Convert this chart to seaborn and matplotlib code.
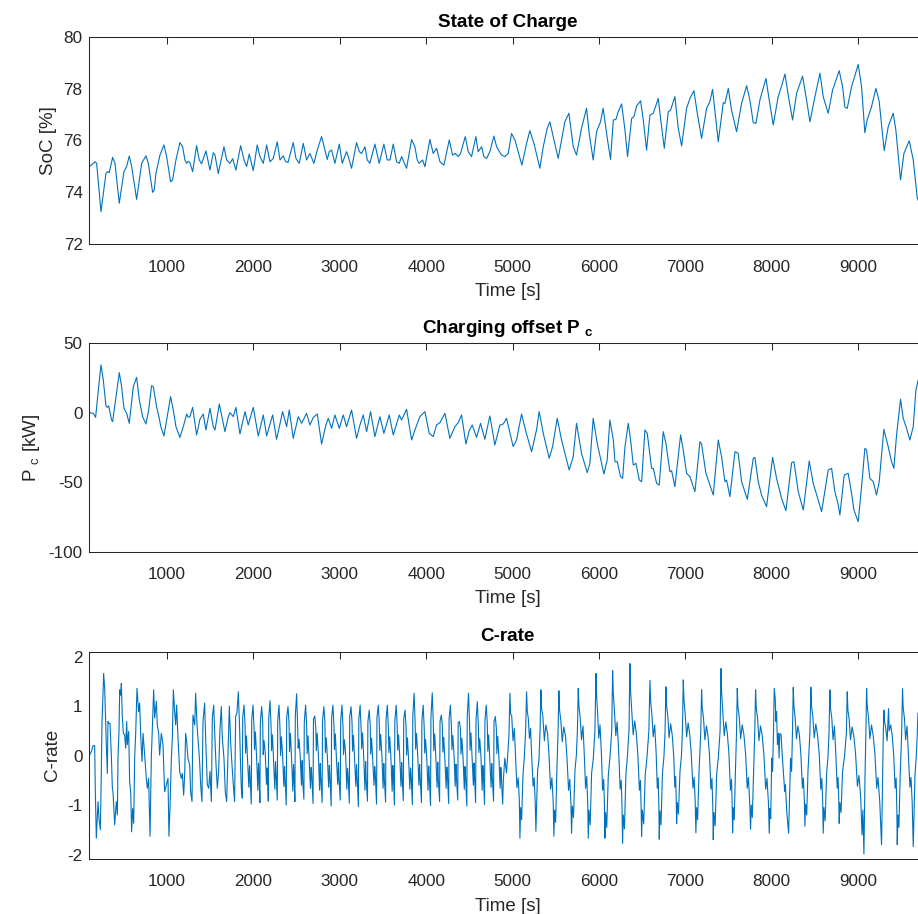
import matplotlib
matplotlib.use("Agg")
import matplotlib.pyplot as plt
import pandas as pd
import seaborn as sns

# ---------------------------------------------------------------- data
X_TICKS = [1000, 2000, 3000, 4000, 5000, 6000, 7000, 8000, 9000]
SOC_TICKS = [72, 74, 76, 78, 80]
PC_TICKS = [-100, -50, 0, 50]
CRATE_TICKS = [-2, -1, 0, 1, 2]

# State of charge [%]
SOC_TIME = [
    100, 166, 185, 235, 293, 312, 331, 370, 397, 447, 501, 532, 563, 590, 648,
    706, 756, 783, 833, 852, 871, 918, 964, 995, 1041, 1064, 1103, 1149, 1180,
    1207, 1226, 1245, 1265, 1296, 1342, 1373, 1400, 1450, 1497, 1535, 1555,
    1593, 1659, 1690, 1728, 1760, 1797, 1852, 1891, 1921, 1952, 1998, 2044,
    2075, 2114, 2153, 2191, 2230, 2276, 2307, 2345, 2370, 2400, 2461, 2492,
    2530, 2577, 2615, 2654, 2700, 2739, 2789, 2828, 2855, 2878, 2905, 2943,
    2994, 3028, 3078, 3098, 3136, 3194, 3225, 3252, 3291, 3318, 3348, 3406,
    3456, 3510, 3549, 3580, 3619, 3657, 3688, 3715, 3773, 3831, 3869, 3896,
    3919, 3958, 3985, 4043, 4081, 4120, 4159, 4205, 4267, 4305, 4336, 4371,
    4398, 4452, 4487, 4525, 4575, 4602, 4641, 4668, 4699, 4737, 4784, 4815,
    4872, 4911, 4950, 4988, 5027, 5108, 5162, 5200, 5247, 5316, 5355, 5401,
    5432, 5470, 5528, 5605, 5652, 5702, 5740, 5798, 5856, 5887, 5933, 5972,
    6018, 6049, 6088, 6134, 6166, 6196, 6223, 6262, 6301, 6331, 6378, 6405,
    6436, 6482, 6513, 6551, 6590, 6629, 6686, 6725, 6756, 6802, 6829, 6879,
    6918, 6957, 7014, 7053, 7099, 7138, 7188, 7246, 7284, 7315, 7354, 7381,
    7439, 7458, 7497, 7535, 7593, 7651, 7709, 7747, 7786, 7817, 7863, 7933,
    7971, 8017, 8075, 8114, 8153, 8191, 8241, 8288, 8357, 8403, 8442, 8500,
    8558, 8596, 8654, 8704, 8781, 8820, 8847, 8874, 8924, 9001, 9040, 9078,
    9105, 9155, 9206, 9244, 9302, 9348, 9406, 9437, 9491, 9530, 9592, 9638,
    9684, 9707,
]
SOC_PCT = [
    74.99, 75.18, 75.12, 73.26, 74.73, 74.80, 74.76, 75.35, 75.12, 73.58, 74.80,
    75.00, 75.40, 75.00, 73.73, 75.12, 75.41, 75.12, 74.00, 74.09, 74.73, 75.44,
    75.83, 75.38, 74.41, 74.48, 75.25, 75.92, 75.76, 75.25, 75.12, 75.20, 75.15,
    74.80, 75.80, 75.25, 75.10, 75.60, 74.86, 75.53, 75.44, 74.73, 75.76, 75.25,
    75.12, 75.30, 74.86, 75.80, 75.25, 75.00, 75.48, 74.84, 75.83, 75.38, 75.12,
    75.83, 75.18, 75.31, 75.95, 75.25, 75.41, 75.20, 75.15, 75.92, 75.31, 75.12,
    75.89, 75.25, 75.50, 75.12, 75.63, 76.15, 75.63, 75.27, 75.57, 75.63, 75.12,
    75.86, 75.12, 75.57, 75.38, 74.93, 75.92, 75.57, 75.50, 75.76, 75.25, 75.12,
    75.86, 75.12, 75.86, 75.25, 75.25, 75.86, 75.18, 75.12, 75.38, 74.93, 76.04,
    75.76, 75.25, 75.12, 75.25, 74.99, 76.04, 75.50, 75.70, 75.18, 75.05, 76.02,
    75.44, 75.50, 75.38, 75.50, 76.15, 75.57, 75.38, 76.15, 75.57, 75.76, 75.38,
    75.31, 75.57, 76.17, 75.76, 75.44, 75.38, 75.50, 76.27, 76.02, 75.05, 75.89,
    76.38, 75.89, 74.93, 75.76, 76.47, 76.72, 76.15, 75.31, 76.72, 77.05, 75.76,
    75.44, 76.47, 77.24, 76.27, 75.25, 76.34, 76.72, 77.24, 76.27, 75.27, 76.79,
    76.81, 77.11, 77.41, 76.40, 75.38, 76.85, 76.92, 77.33, 77.53, 76.79, 75.63,
    76.98, 77.05, 77.62, 76.53, 75.70, 77.11, 77.17, 77.69, 76.47, 75.79, 77.24,
    77.62, 77.92, 77.05, 76.08, 77.24, 77.50, 77.97, 76.79, 75.95, 77.46, 77.43,
    78.01, 77.17, 76.34, 77.43, 78.11, 77.56, 76.69, 76.66, 77.56, 78.39, 77.56,
    76.60, 77.69, 78.10, 78.56, 77.75, 76.79, 77.82, 78.48, 77.56, 76.72, 77.69,
    78.59, 77.69, 77.05, 77.94, 78.69, 78.07, 77.28, 77.24, 78.07, 78.93, 78.07,
    76.30, 76.79, 77.30, 78.01, 77.50, 75.61, 76.53, 77.05, 76.40, 74.48, 75.50,
    75.99, 75.25, 73.81, 73.58,
]

# Charging offset P_c [kW]
PC_TIME = [
    100, 146, 173, 193, 235, 262, 293, 308, 324, 358, 370, 409, 447, 474, 501,
    532, 563, 609, 648, 679, 717, 756, 787, 821, 841, 879, 910, 926, 964, 995,
    1041, 1072, 1103, 1149, 1188, 1227, 1246, 1265, 1296, 1342, 1381, 1419,
    1450, 1497, 1535, 1555, 1605, 1651, 1670, 1709, 1728, 1767, 1797, 1844,
    1902, 1940, 1998, 2056, 2114, 2153, 2222, 2268, 2338, 2384, 2415, 2461,
    2519, 2558, 2615, 2654, 2693, 2739, 2789, 2839, 2866, 2905, 2943, 2994,
    3040, 3078, 3136, 3194, 3233, 3271, 3310, 3356, 3406, 3464, 3510, 3572,
    3619, 3688, 3715, 3773, 3831, 3869, 3927, 3985, 4035, 4081, 4120, 4159,
    4217, 4274, 4332, 4371, 4409, 4460, 4498, 4533, 4583, 4629, 4679, 4737,
    4795, 4853, 4892, 4930, 5007, 5046, 5104, 5154, 5220, 5277, 5308, 5355,
    5424, 5463, 5517, 5567, 5655, 5702, 5740, 5798, 5864, 5895, 5933, 5980,
    6057, 6095, 6126, 6166, 6185, 6212, 6250, 6274, 6301, 6339, 6366, 6397,
    6428, 6467, 6494, 6532, 6559, 6609, 6629, 6667, 6698, 6744, 6775, 6821,
    6841, 6879, 6945, 6976, 7014, 7053, 7111, 7169, 7188, 7238, 7265, 7323,
    7381, 7419, 7458, 7477, 7516, 7574, 7612, 7651, 7717, 7786, 7805, 7844,
    7882, 7940, 8010, 8056, 8114, 8164, 8230, 8257, 8307, 8365, 8434, 8480,
    8538, 8577, 8654, 8693, 8731, 8770, 8789, 8839, 8885, 8924, 8951, 9001,
    9040, 9078, 9098, 9136, 9175, 9213, 9244, 9298, 9348, 9387, 9414, 9445,
    9491, 9522, 9561, 9599, 9638, 9669, 9696,
]
PC_KW = [
    0.1, -0.4, -3.3, 9.2, 34.4, 23.6, 4.9, 3.9, 4.9, -5.2, -6.4, 11.6, 28.9,
    18.8, 3.2, -0.4, -7.6, 18.8, 25.5, 9.2, -2.8, -8.1, 2.0, 19.5, 18.8, 4.4,
    -4.0, -9.5, -16.7, -5.2, 11.6, 2.0, -10.0, -17.7, -10.0, -0.9, -3.3, -2.8,
    3.9, -16.0, -4.7, -0.9, -12.4, 3.2, -10.0, -12.4, 6.3, -7.6, -13.6, -2.8,
    0.1, -2.8, 3.9, -15.3, 0.8, -8.8, 3.9, -16.7, -1.6, -16.7, -1.6, -19.1,
    0.8, -10.0, 2.0, -18.4, -2.8, -7.6, -0.4, -8.8, -3.3, -0.9, -22.5, -8.8,
    -4.0, -11.2, -1.6, -11.2, -1.6, -10.0, 2.0, -18.4, -8.8, -1.6, -13.6, 0.8,
    -17.2, -2.8, -14.8, -1.6, -16.0, -1.6, -5.2, 2.5, -19.6, -12.4, -2.8, 0.8,
    -14.8, -17.2, -8.8, -7.1, -0.4, -18.4, -10.0, -7.1, -1.6, -22.5, -12.9,
    -8.8, -17.7, -7.6, -19.1, -2.3, -23.2, -8.8, -8.1, -4.0, -24.4, -19.6,
    -0.9, -13.6, -28.0, -12.4, 0.8, -14.8, -32.8, -24.4, -4.0, -19.6, -41.2,
    -31.6, -7.6, -29.2, -43.1, -36.4, -4.0, -22.0, -44.1, -34.0, -5.2, -19.6,
    -35.2, -35.2, -46.0, -47.2, -24.4, -7.6, -19.6, -37.6, -36.4, -48.4, -49.6,
    -12.4, -14.8, -40.0, -40.0, -50.8, -52.0, -13.6, -22.0, -42.4, -41.7,
    -53.2, -16.0, -26.8, -43.6, -46.0, -56.8, -20.8, -22.5, -43.6, -48.4,
    -59.2, -19.6, -31.6, -49.6, -48.4, -60.4, -28.0, -29.2, -49.6, -62.3,
    -32.8, -32.1, -49.6, -59.2, -67.6, -32.1, -47.2, -61.6, -70.5, -36.0,
    -35.2, -56.8, -70.0, -34.7, -50.8, -62.8, -71.2, -41.2, -40.0, -56.8,
    -66.4, -73.6, -44.8, -43.6, -58.0, -70.0, -78.4, -53.2, -25.6, -26.8,
    -47.2, -49.6, -59.2, -49.6, -11.9, -24.4, -35.2, -40.0, -16.0, 9.7, -4.0,
    -11.2, -19.6, -10.0, 16.4, 23.6,
]

# C-rate, start-up phase
CRATE_TIME_START = [
    104, 124, 143, 162, 170, 181, 201, 212, 228, 239, 247, 259, 266, 278, 286,
    297, 309, 316, 328, 340, 355, 367, 374, 394, 413, 425, 432, 444, 452, 463,
    471, 482, 494, 509, 521, 533, 540, 556, 567, 579, 590, 602, 614, 625, 637,
    652, 671, 683, 695, 710, 722, 741, 760, 772, 787, 803, 818, 830, 845, 857,
    876, 887, 903, 914, 934, 953, 972, 992, 1011, 1022, 1034, 1050, 1061,
    1073, 1088, 1100, 1111, 1127, 1146, 1165, 1177, 1192, 1204, 1215, 1227,
    1242, 1262, 1273, 1289, 1300, 1320, 1331, 1347, 1358, 1377, 1389, 1404,
    1416, 1435, 1447, 1466, 1482, 1497, 1513, 1524, 1540, 1551, 1567, 1582,
    1597, 1613, 1628, 1640, 1659, 1674, 1690, 1705, 1721, 1736, 1752, 1767,
    1782, 1794, 1809, 1825, 1840, 1850, 1860,
]
CRATE_START = [
    0.01, 0.08, 0.20, 0.20, -0.73, -1.67, -0.93, -1.27, -1.50, -0.32, 0.69,
    1.26, 1.66, 1.36, 0.89, 0.22, -0.36, 0.69, 0.65, 0.65, 0.01, -0.66, -0.73,
    -1.40, -0.93, -1.20, -0.05, 0.52, 1.33, 1.22, 1.46, 0.79, 0.45, 0.42, 0.15,
    0.69, 0.22, 0.49, -0.53, -0.73, -1.54, -1.07, -1.37, -0.05, 0.45, 1.36,
    0.89, 1.06, 0.42, -0.12, 0.45, 0.01, -0.46, -0.66, -0.46, -1.63, -0.05,
    0.55, 1.33, 0.76, 1.10, 0.62, 0.45, 0.01, 0.45, 0.22, -0.73, -0.59, -0.46,
    -1.63, -1.07, -0.05, 0.35, 1.33, 0.89, 0.62, 1.02, 0.35, -0.32, -0.46,
    -0.36, -0.80, -0.39, 0.45, 0.28, -0.05, -0.19, -0.73, -0.93, 0.82, 0.62,
    1.26, 0.62, 0.35, -0.12, -0.59, -0.93, 0.69, 1.06, 0.35, -0.59, -0.66,
    -0.32, -0.93, 0.76, 1.02, 0.49, -0.19, -0.66, -0.32, 0.55, 0.99, 0.35,
    -0.05, -0.73, -0.93, 0.01, 1.00, 0.28, -0.19, -0.59, -0.93, 0.79, 0.86,
    1.29, 0.55, -0.12, -0.66,
]

# C-rate, short-cycle phase
CRATE_TIME_MID = [
    1871, 1876, 1891, 1903, 1909, 1919, 1933, 1947, 1955, 1961,
    1975, 1980, 1995, 2007, 2013, 2023, 2037, 2051, 2059, 2065,
    2075, 2080, 2095, 2107, 2113, 2123, 2137, 2151, 2159, 2165,
    2172, 2177, 2192, 2204, 2210, 2220, 2234, 2248, 2256, 2262,
    2276, 2281, 2296, 2308, 2314, 2324, 2338, 2352, 2360, 2366,
    2380, 2385, 2400, 2412, 2418, 2428, 2442, 2456, 2464, 2470,
    2480, 2485, 2500, 2512, 2518, 2528, 2542, 2556, 2564, 2570,
    2584, 2589, 2604, 2616, 2622, 2632, 2646, 2660, 2668, 2674,
    2690, 2695, 2710, 2722, 2728, 2738, 2752, 2766, 2774, 2780,
    2795, 2800, 2815, 2827, 2833, 2843, 2857, 2871, 2879, 2885,
    2900, 2905, 2920, 2932, 2938, 2948, 2962, 2976, 2984, 2990,
    3005, 3010, 3025, 3037, 3043, 3053, 3067, 3081, 3089, 3095,
    3110, 3115, 3130, 3142, 3148, 3158, 3172, 3186, 3194, 3200,
    3215, 3220, 3235, 3247, 3253, 3263, 3277, 3291, 3299, 3305,
    3320, 3325, 3340, 3352, 3358, 3368, 3382, 3396, 3404, 3410,
    3425, 3430, 3445, 3457, 3463, 3473, 3487, 3501, 3509, 3515,
    3530, 3535, 3550, 3562, 3568, 3578, 3592, 3606, 3614, 3620,
    3632, 3637, 3652, 3664, 3670, 3680, 3694, 3708, 3716, 3722,
    3735, 3740, 3755, 3767, 3773, 3783, 3797, 3811, 3819, 3825,
    3840, 3845, 3860, 3872, 3878, 3888, 3902, 3916, 3924, 3930,
    3945, 3950, 3965, 3977, 3983, 3993, 4007, 4021, 4029, 4035,
    4050, 4055, 4070, 4082, 4088, 4098, 4112, 4126, 4134, 4140,
    4155, 4160, 4175, 4187, 4193, 4203, 4217, 4231, 4239, 4245,
    4260, 4265, 4280, 4292, 4298, 4308, 4322, 4336, 4344, 4350,
    4365, 4370, 4385, 4397, 4403, 4413, 4427, 4441, 4449, 4455,
    4470, 4475, 4490, 4502, 4508, 4518, 4532, 4546, 4554, 4560,
    4572, 4577, 4592, 4604, 4610, 4620, 4634, 4648, 4656, 4662,
    4675, 4680, 4695, 4707, 4713, 4723, 4737, 4751, 4759, 4765,
    4780, 4785, 4800, 4812, 4818, 4828, 4842, 4856, 4864, 4870,
]
CRATE_MID = [
    -0.86, 0.79, 1.02, 0.62, 0.05, 0.40, -0.10, -0.64, -0.20, -0.42,
    -0.98, 0.72, 1.02, 0.55, 0.12, 0.48, -0.05, -0.70, -0.15, -0.38,
    -0.95, 0.66, 0.99, 0.70, 0.02, 0.30, 0.05, -0.58, -0.25, -0.45,
    -0.92, 0.75, 1.11, 0.60, 0.10, 0.42, -0.15, -0.68, -0.12, -0.35,
    -0.90, 0.70, 1.02, 0.52, 0.00, 0.38, 0.00, -0.62, -0.22, -0.48,
    -1.00, 0.78, 0.99, 0.66, 0.08, 0.45, -0.08, -0.72, -0.18, -0.40,
    -0.93, 0.80, 1.25, 0.58, 0.15, 0.33, -0.02, -0.60, -0.10, -0.50,
    -0.88, 0.68, 1.02, 0.62, 0.04, 0.40, -0.12, -0.66, -0.24, -0.36,
    -0.97, 0.74, 0.80, 0.55, 0.10, 0.45, 0.02, -0.70, -0.16, -0.44,
    -0.95, 0.71, 0.99, 0.68, 0.06, 0.36, -0.06, -0.64, -0.20, -0.40,
    -1.02, 0.76, 1.02, 0.60, 0.12, 0.44, -0.10, -0.58, -0.14, -0.46,
    -0.90, 0.70, 1.02, 0.57, 0.02, 0.32, 0.04, -0.68, -0.26, -0.38,
    -0.96, 0.79, 0.99, 0.64, 0.09, 0.41, -0.09, -0.62, -0.18, -0.42,
    -1.03, 0.73, 1.02, 0.52, 0.14, 0.46, -0.04, -0.70, -0.12, -0.48,
    -0.92, 0.68, 0.92, 0.61, 0.03, 0.35, -0.12, -0.60, -0.22, -0.35,
    -0.98, 0.77, 1.02, 0.66, 0.10, 0.43, 0.01, -0.66, -0.16, -0.44,
    -0.94, 0.72, 1.02, 0.56, 0.06, 0.38, -0.07, -0.72, -0.20, -0.40,
    -1.00, 0.70, 1.02, 0.62, 0.11, 0.42, -0.03, -0.62, -0.14, -0.46,
    -0.91, 0.75, 0.92, 0.58, 0.01, 0.36, -0.10, -0.68, -0.25, -0.37,
    -0.99, 0.80, 1.26, 0.64, 0.13, 0.45, 0.00, -0.60, -0.18, -0.43,
    -0.95, 0.71, 1.02, 0.55, 0.05, 0.33, -0.08, -0.70, -0.21, -0.41,
    -1.01, 0.77, 1.27, 0.67, 0.10, 0.44, -0.05, -0.64, -0.13, -0.47,
    -0.93, 0.69, 0.82, 0.60, 0.07, 0.37, -0.11, -0.66, -0.23, -0.36,
    -0.97, 0.74, 1.02, 0.57, 0.12, 0.41, 0.02, -0.62, -0.17, -0.44,
    -0.90, 0.66, 0.69, 0.52, 0.03, 0.35, -0.06, -0.68, -0.22, -0.40,
    -1.02, 0.79, 1.26, 0.63, 0.11, 0.46, -0.09, -0.60, -0.15, -0.45,
    -0.95, 0.72, 1.09, 0.58, 0.06, 0.34, -0.02, -0.70, -0.20, -0.38,
    -0.99, 0.70, 1.02, 0.66, 0.09, 0.42, -0.10, -0.64, -0.16, -0.43,
    -0.92, 0.68, 0.79, 0.55, 0.04, 0.39, -0.04, -0.66, -0.24, -0.41,
]

# C-rate, long-cycle phase
CRATE_TIME_END = [
    4885, 4893, 4910, 4930, 4958, 4969, 4977, 4990, 5005, 5020, 5035, 5050, 5065, 5078,
    5085, 5093, 5105, 5120, 5135, 5150, 5162, 5170, 5182, 5195, 5208, 5222, 5238, 5250, 5262,
    5270, 5278, 5290, 5305, 5318, 5328, 5336, 5350, 5368, 5385, 5405, 5422, 5440, 5455, 5470,
    5478, 5486, 5498, 5512, 5526, 5536, 5544, 5558, 5575, 5592, 5612, 5630, 5648, 5662, 5675,
    5683, 5691, 5705, 5722, 5738, 5750, 5760, 5768, 5782, 5798, 5815, 5830, 5845, 5858, 5870,
    5876, 5884, 5898, 5915, 5935, 5953, 5965, 5973, 5985, 5998, 6012, 6028, 6042, 6055, 6063,
    6069, 6077, 6090, 6108, 6128, 6148, 6158, 6166, 6180, 6195, 6210, 6228, 6245, 6258, 6267,
    6273, 6281, 6295, 6312, 6330, 6348, 6358, 6366, 6380, 6396, 6414, 6432, 6450, 6468, 6480, 6488,
    6494, 6502, 6518, 6535, 6555, 6578, 6590, 6598, 6612, 6628, 6645, 6662, 6675, 6686, 6693,
    6698, 6706, 6718, 6735, 6752, 6765, 6775, 6783, 6797, 6812, 6830, 6848, 6865, 6878, 6888, 6894,
    6899, 6907, 6920, 6938, 6955, 6966, 6976, 6984, 6998, 7015, 7032, 7050, 7068, 7088, 7102, 7114,
    7122, 7130, 7142, 7158, 7178, 7188, 7196, 7210, 7226, 7244, 7262, 7280, 7296, 7308, 7317,
    7323, 7331, 7345, 7362, 7382, 7402, 7412, 7420, 7434, 7450, 7468, 7486, 7505, 7522, 7534, 7542,
    7547, 7555, 7566, 7580, 7592, 7601, 7609, 7624, 7640, 7658, 7678, 7698, 7716, 7730, 7745,
    7755, 7763, 7775, 7790, 7803, 7813, 7821, 7836, 7852, 7870, 7890, 7910, 7930, 7945, 7962,
    7971, 7979, 7988, 8000, 8010, 8020, 8029, 8040, 8048, 8056, 8066, 8077, 8085, 8093, 8108,
    8124, 8150, 8158, 8174,
    8195, 8203, 8218, 8230, 8240, 8249, 8257, 8270, 8286, 8302, 8320, 8338, 8355, 8366, 8378,
    8384, 8392, 8405, 8420, 8442, 8453, 8461, 8475, 8492, 8510, 8530, 8550, 8568, 8580, 8590,
    8596, 8604, 8618, 8636, 8652, 8663, 8673, 8681, 8695, 8710, 8726, 8742, 8758, 8768, 8776,
    8781, 8789, 8802, 8820, 8842, 8864, 8874, 8882, 8896, 8912, 8930, 8950, 8970, 8992, 9010,
    9030, 9045, 9055,
    9067, 9073, 9080, 9090, 9098, 9106, 9120, 9136, 9155, 9175, 9195, 9215, 9230, 9250, 9262,
    9271, 9277, 9284, 9291, 9298, 9306, 9320, 9336, 9352, 9360, 9378, 9395, 9412, 9428, 9440, 9448,
    9453, 9461, 9472, 9488, 9504, 9514, 9522, 9536, 9550, 9566, 9582, 9600, 9612, 9626,
    9638, 9646, 9658, 9672, 9684, 9692, 9700, 9710,
]
CRATE_END = [
    -0.98, -0.50, -0.05, -0.35, 0.40, 1.26, 0.85, 0.80, 0.30, 0.55, -0.05, -0.65, -0.45, -0.90,
    -1.67, -1.05, -1.30, -0.40, -0.05, 0.45, 1.29, 0.90, 0.75, 0.35, 0.55, -0.05, -0.62, -0.45, -0.95,
    -1.53, -1.00, -0.30, -0.10, 0.50, 1.33, 0.95, 0.80, 0.30, 0.62, 0.45, 0.00, -0.68, -0.45, -0.92,
    -1.63, -1.10, -1.35, -0.35, 0.45, 1.31, 0.92, 0.72, 0.28, 0.58, 0.40, -0.05, -0.70, -0.48, -0.95,
    -1.57, -1.02, -1.25, -0.30, 0.00, 0.48, 1.36, 1.00, 0.78, 0.32, 0.60, 0.02, -0.66, -0.42, -0.98,
    -1.67, -1.10, -1.40, -0.35, -0.05, 0.50, 1.66, 1.20, 0.85, 0.35, 0.62, 0.05, -0.70, -0.48, -1.00,
    -1.67, -1.15, -1.45, -0.40, -0.02, 0.50, 1.72, 1.25, 0.88, 0.40, 0.68, 0.10, -0.68, -0.50, -1.05,
    -1.77, -1.20, -1.48, -0.38, 0.00, 0.52, 1.86, 1.30, 0.90, 0.42, 0.70, 0.45, 0.02, -0.70, -0.50, -1.05,
    -1.64, -1.10, -1.38, -0.40, -0.05, 0.50, 1.52, 1.10, 0.85, 0.38, 0.62, 0.05, -0.66, -0.45, -1.00,
    -1.69, -1.12, -1.40, -0.35, -0.02, 0.48, 1.39, 1.00, 0.80, 0.36, 0.64, 0.42, 0.00, -0.64, -0.42, -0.88,
    -1.37, -0.95, -1.18, -0.32, 0.00, 0.50, 1.53, 1.12, 0.84, 0.38, 0.66, 0.44, 0.04, -0.66, -0.44, -0.95,
    -1.56, -1.05, -1.30, -0.34, 0.45, 1.33, 0.96, 0.76, 0.32, 0.60, 0.40, 0.00, -0.68, -0.46, -0.98,
    -1.70, -1.15, -1.42, -0.38, -0.04, 0.50, 1.76, 1.28, 0.88, 0.40, 0.68, 0.45, 0.02, -0.70, -0.48, -1.00,
    -1.56, -1.05, -1.30, -0.30, 0.45, 1.36, 0.98, 0.78, 0.34, 0.62, 0.42, 0.02, -0.66, -0.44, -0.95,
    -1.49, -1.00, -1.25, -0.32, 0.46, 1.33, 0.95, 0.76, 0.30, 0.60, 0.40, 0.00, -0.68, -0.46, -0.96,
    -1.57, -1.07, -1.27, -0.05, -0.32, 0.45, 1.36, 1.16, 0.69, 0.89, 0.22, 0.45, -0.05, 0.45, 0.42,
    -0.05, -0.73, -0.59, -1.13,
    -1.57, -1.07, -0.05, -0.32, 0.48, 1.38, 1.00, 0.78, 0.34, 0.60, 0.42, 0.00, -0.66, -0.45, -0.92,
    -1.43, -0.98, -1.20, -0.30, 0.46, 1.38, 1.00, 0.80, 0.36, 0.64, 0.42, 0.02, -0.68, -0.46, -0.96,
    -1.57, -1.05, -1.32, -0.34, 0.00, 0.46, 1.33, 0.95, 0.76, 0.32, 0.60, 0.02, -0.66, -0.44, -0.90,
    -1.37, -0.95, -1.15, -0.32, -0.02, 0.45, 1.29, 0.92, 0.74, 0.32, 0.58, 0.40, 0.05, -0.62, -0.40,
    -0.85, -1.60, -1.10,
    -1.99, -1.30, -0.40, 0.48, 1.36, 0.98, 0.78, 0.34, 0.62, 0.40, 0.02, -0.66, -0.44, -0.92, -1.40,
    -1.80, -1.20, -0.35, 0.40, 0.92, 0.70, 0.55, 0.30, 0.95, 0.50, 0.62, 0.40, 0.00, -0.66, -0.45, -1.10,
    -1.80, -1.20, -1.45, -0.35, 0.46, 1.35, 0.96, 0.76, 0.32, 0.60, 0.02, -0.64, -0.44, -0.95,
    -1.84, -1.25, -0.40, -0.05, 0.40, 0.86, 0.55, 0.20,
]

# ---------------------------------------------------------------- style
LINE_COLOR = "#0072BD"
TEXT_COLOR = "#262626"

sns.set_theme(style="white")
plt.rcParams.update({
    "font.family": ["Liberation Sans", "DejaVu Sans"],
    "mathtext.fontset": "custom",
    "mathtext.rm": "Liberation Sans",
    "mathtext.it": "Liberation Sans:italic",
    "mathtext.bf": "Liberation Sans:bold",
    "axes.edgecolor": TEXT_COLOR,
    "axes.linewidth": 0.75,
    "axes.labelcolor": TEXT_COLOR,
    "xtick.color": TEXT_COLOR,
    "ytick.color": TEXT_COLOR,
})

soc_df = pd.DataFrame({"t": SOC_TIME, "v": SOC_PCT})
pc_df = pd.DataFrame({"t": PC_TIME, "v": PC_KW})
crate_df = pd.DataFrame({
    "t": CRATE_TIME_START + CRATE_TIME_MID + CRATE_TIME_END,
    "v": CRATE_START + CRATE_MID + CRATE_END,
})

W, H = 918, 914
fig = plt.figure(figsize=(W / 100, H / 100), dpi=100)


def rect(top_px, bottom_px, left_px=89.3, right_px=925.5):
    return [left_px / W, 1 - bottom_px / H, (right_px - left_px) / W,
            (bottom_px - top_px) / H]


panels = [
    (rect(36.7, 244.3), soc_df, (72, 80), SOC_TICKS,
     "State of Charge", "SoC [%]", 7.2),
    (rect(343.3, 551.7), pc_df, (-100, 50), PC_TICKS,
     r"Charging offset P $_{\mathbf{c}}$", r"P $_{\mathrm{c}}$ [kW]", 7.2),
    (rect(651.7, 859.0), crate_df, (-2.09, 2.1), CRATE_TICKS,
     "C-rate", "C-rate", 7.6),
]

for box, df, ylim, yticks, title, ylabel, tpad in panels:
    ax = fig.add_axes(box)
    sns.lineplot(data=df, x="t", y="v", ax=ax, color=LINE_COLOR,
                 linewidth=0.8, estimator=None, sort=False)
    ax.set_xlim(100, 9780)
    ax.set_ylim(*ylim)
    ax.set_xticks(X_TICKS)
    ax.set_yticks(yticks)
    ax.set_xticklabels([str(v) for v in X_TICKS])
    ax.set_yticklabels([str(v) for v in yticks])
    ax.tick_params(direction="in", length=5, width=0.75, top=True,
                   right=True, labelsize=12.3)
    ax.tick_params(axis="x", pad=11)
    ax.tick_params(axis="y", pad=4.8)
    for side in ("top", "bottom", "left", "right"):
        ax.spines[side].set_visible(True)
    ax.set_xlabel("Time [s]", fontsize=13.5, labelpad=6)
    ax.set_ylabel(ylabel, fontsize=13.5, labelpad=5)
    ax.set_title(title, fontsize=13.6, fontweight="bold", color="black",
                 pad=tpad)

fig.savefig("out.png", dpi=100)
